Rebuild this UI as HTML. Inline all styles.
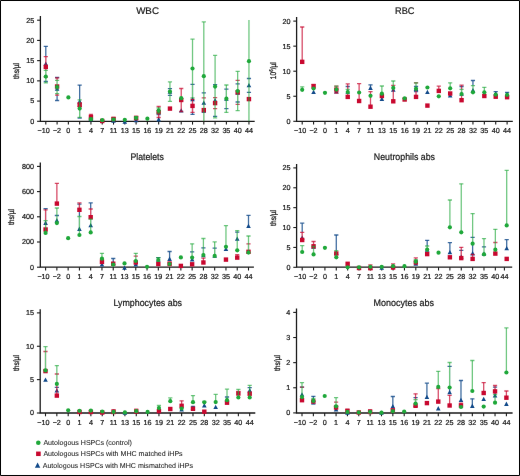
<!DOCTYPE html>
<html><head><meta charset="utf-8"><title>Blood counts</title>
<style>
html,body{margin:0;padding:0;background:#fff;}
body{width:520px;height:476px;overflow:hidden;}
.fig{position:relative;width:520px;height:476px;}
svg{position:absolute;left:0;top:0;}
text{font-family:"Liberation Sans",sans-serif;text-rendering:geometricPrecision;fill:#1a1a1a;stroke:#1a1a1a;stroke-width:0.22px;stroke-linejoin:round;}
.ti{font-size:9px;}
.tk{font-size:7.2px;}
.yl{font-size:8.2px;stroke-width:0.3px;}
.lg{font-size:7.08px;stroke-width:0.06px;}
.ax{stroke:#1a1a1a;stroke-width:1.1;}
.axl{stroke:#1a1a1a;stroke-width:1.3;fill:none;}
.eb{stroke-width:1.3;fill:none;}
</style></head>
<body><div class="fig">
<svg width="520" height="476" viewBox="0 0 520 476">
<defs><filter id="soft" x="0" y="0" width="520" height="476" filterUnits="userSpaceOnUse" color-interpolation-filters="sRGB"><feConvolveMatrix order="3" kernelMatrix="0.00041 0.01943 0.00041 0.01943 0.92062 0.01943 0.00041 0.01943 0.00041" divisor="1" edgeMode="duplicate"/></filter></defs>
<g filter="url(#soft)"><rect x="0" y="0" width="520" height="476" fill="#fff"/>
<path d="M0.5 0.5H519.5V475.5H0.5Z" fill="none" stroke="#000" stroke-width="1"/>
<text x="147.55" y="14.2" class="ti" text-anchor="middle" style="font-size:9.6px" textLength="22.8" lengthAdjust="spacingAndGlyphs">WBC</text>
<text class="yl" text-anchor="middle" transform="translate(19 70.9) rotate(-90) scale(0.81 1)">ths/µl</text>
<line x1="37.1" y1="121.3" x2="40.4" y2="121.3" class="ax"/>
<text x="34.2" y="123.7" class="tk" text-anchor="end">0</text>
<line x1="37.1" y1="101.08" x2="40.4" y2="101.08" class="ax"/>
<text x="34.2" y="103.48" class="tk" text-anchor="end">5</text>
<line x1="37.1" y1="80.86" x2="40.4" y2="80.86" class="ax"/>
<text x="34.2" y="83.26" class="tk" text-anchor="end">10</text>
<line x1="37.1" y1="60.64" x2="40.4" y2="60.64" class="ax"/>
<text x="34.2" y="63.04" class="tk" text-anchor="end">15</text>
<line x1="37.1" y1="40.42" x2="40.4" y2="40.42" class="ax"/>
<text x="34.2" y="42.82" class="tk" text-anchor="end">20</text>
<line x1="37.1" y1="20.2" x2="40.4" y2="20.2" class="ax"/>
<text x="34.2" y="22.6" class="tk" text-anchor="end">25</text>
<line x1="45.8" y1="121.3" x2="45.8" y2="124.6" class="ax"/>
<text x="43.7" y="133.3" class="tk" text-anchor="middle">−10</text>
<line x1="57.09" y1="121.3" x2="57.09" y2="124.6" class="ax"/>
<text x="56.99" y="133.3" class="tk" text-anchor="middle">−2</text>
<line x1="68.37" y1="121.3" x2="68.37" y2="124.6" class="ax"/>
<text x="68.37" y="133.3" class="tk" text-anchor="middle">0</text>
<line x1="79.66" y1="121.3" x2="79.66" y2="124.6" class="ax"/>
<text x="79.66" y="133.3" class="tk" text-anchor="middle">1</text>
<line x1="90.94" y1="121.3" x2="90.94" y2="124.6" class="ax"/>
<text x="90.94" y="133.3" class="tk" text-anchor="middle">4</text>
<line x1="102.23" y1="121.3" x2="102.23" y2="124.6" class="ax"/>
<text x="102.23" y="133.3" class="tk" text-anchor="middle">7</text>
<line x1="113.52" y1="121.3" x2="113.52" y2="124.6" class="ax"/>
<text x="113.52" y="133.3" class="tk" text-anchor="middle">11</text>
<line x1="124.8" y1="121.3" x2="124.8" y2="124.6" class="ax"/>
<text x="124.8" y="133.3" class="tk" text-anchor="middle">13</text>
<line x1="136.09" y1="121.3" x2="136.09" y2="124.6" class="ax"/>
<text x="136.09" y="133.3" class="tk" text-anchor="middle">15</text>
<line x1="147.38" y1="121.3" x2="147.38" y2="124.6" class="ax"/>
<text x="147.38" y="133.3" class="tk" text-anchor="middle">16</text>
<line x1="158.66" y1="121.3" x2="158.66" y2="124.6" class="ax"/>
<text x="158.66" y="133.3" class="tk" text-anchor="middle">19</text>
<line x1="169.95" y1="121.3" x2="169.95" y2="124.6" class="ax"/>
<text x="169.95" y="133.3" class="tk" text-anchor="middle">21</text>
<line x1="181.23" y1="121.3" x2="181.23" y2="124.6" class="ax"/>
<text x="181.23" y="133.3" class="tk" text-anchor="middle">22</text>
<line x1="192.52" y1="121.3" x2="192.52" y2="124.6" class="ax"/>
<text x="192.52" y="133.3" class="tk" text-anchor="middle">25</text>
<line x1="203.81" y1="121.3" x2="203.81" y2="124.6" class="ax"/>
<text x="203.81" y="133.3" class="tk" text-anchor="middle">28</text>
<line x1="215.09" y1="121.3" x2="215.09" y2="124.6" class="ax"/>
<text x="215.09" y="133.3" class="tk" text-anchor="middle">32</text>
<line x1="226.38" y1="121.3" x2="226.38" y2="124.6" class="ax"/>
<text x="226.38" y="133.3" class="tk" text-anchor="middle">35</text>
<line x1="237.66" y1="121.3" x2="237.66" y2="124.6" class="ax"/>
<text x="237.66" y="133.3" class="tk" text-anchor="middle">40</text>
<line x1="248.95" y1="121.3" x2="248.95" y2="124.6" class="ax"/>
<text x="248.95" y="133.3" class="tk" text-anchor="middle">44</text>
<path d="M40.4 16V121.3H254.7" class="axl"/>
<clipPath id="c00"><rect x="40.4" y="20" width="219.3" height="101.3"/></clipPath>
<mask id="mb00" maskUnits="userSpaceOnUse" x="0" y="0" width="520" height="476"><rect width="520" height="476" fill="#fff"/><path d="M45.8 66.9V56.6M45.8 66.9V77.2M57.09 86.5V77.8M57.09 86.5V95.2M79.66 104.8V102.8M79.66 104.8V106.8M90.94 117.2V114.3M90.94 117.2V120.1M113.52 119V117.5M113.52 119V120.5M136.09 118V116.3M136.09 118V119.7M158.66 112V106.5M158.66 112V117.5M181.23 100V88.5M181.23 100V111.5M192.52 105.9V99.4M192.52 105.9V112.4M203.81 110.1V97.8M203.81 110.1V122.4M215.09 103.1V97.6M215.09 103.1V108.6M237.66 92.3V80.3M237.66 92.3V104.3M248.95 99.1V98.1M248.95 99.1V100.1" stroke="#000" stroke-width="1.9" fill="none"/><path d="M45.8 76.6V70.3M45.8 76.6V82.9M57.09 87V80.4M57.09 87V93.6M79.66 108.6V99.8M79.66 108.6V117.4M90.94 119.2V118.2M90.94 119.2V120.2M113.52 119.5V118.5M113.52 119.5V120.5M136.09 117.8V116.8M136.09 117.8V118.8M158.66 110.5V108M158.66 110.5V113M169.95 91.6V81.9M169.95 91.6V101.3M192.52 68.5V39.2M192.52 68.5V97.8M203.81 76.2V21.9M203.81 76.2V130.5M215.09 86.6V55.4M215.09 86.6V117.8M226.38 98.7V85M226.38 98.7V112.4M237.66 91V71.4M237.66 91V110.6M248.95 61.2V16.2M248.95 61.2V123.2" stroke="#000" stroke-width="1.9" fill="none"/></mask>
<mask id="mr00" maskUnits="userSpaceOnUse" x="0" y="0" width="520" height="476"><rect width="520" height="476" fill="#fff"/><path d="M45.8 76.6V70.3M45.8 76.6V82.9M57.09 87V80.4M57.09 87V93.6M79.66 108.6V99.8M79.66 108.6V117.4M90.94 119.2V118.2M90.94 119.2V120.2M113.52 119.5V118.5M113.52 119.5V120.5M136.09 117.8V116.8M136.09 117.8V118.8M158.66 110.5V108M158.66 110.5V113M169.95 91.6V81.9M169.95 91.6V101.3M192.52 68.5V39.2M192.52 68.5V97.8M203.81 76.2V21.9M203.81 76.2V130.5M215.09 86.6V55.4M215.09 86.6V117.8M226.38 98.7V85M226.38 98.7V112.4M237.66 91V71.4M237.66 91V110.6M248.95 61.2V16.2M248.95 61.2V123.2" stroke="#000" stroke-width="1.9" fill="none"/></mask>
<g clip-path="url(#c00)"><path d="M45.8 63.9V46.3M45.8 63.9V81.5M57.09 89V77.5M57.09 89V100.5M79.66 101.6V85.1M79.66 101.6V118.1M90.94 119.5V118.5M90.94 119.5V120.5M158.66 119.6V114.6M158.66 119.6V124.6M169.95 92V88.7M169.95 92V95.3M192.52 99.45V84.45M192.52 99.45V114.45M203.81 103V92.9M203.81 103V112.3M215.09 100.5V84.6M215.09 100.5V116.4M226.38 98.9V89.2M226.38 98.9V108.6M237.66 92.9V83.8M237.66 92.9V102M248.95 85.4V78.5M248.95 85.4V92.3" stroke="#124a8a" stroke-opacity="0.8" stroke-width="1.3" fill="none" mask="url(#mb00)"/><path d="M43.7 46.3H47.9M43.7 81.5H47.9M54.99 77.5H59.19M54.99 100.5H59.19M77.56 85.1H81.76M77.56 118.1H81.76M88.84 118.5H93.04M88.84 120.5H93.04M156.56 114.6H160.76M156.56 124.6H160.76M167.85 88.7H172.05M167.85 95.3H172.05M190.42 84.45H194.62M190.42 114.45H194.62M201.71 92.9H205.91M201.71 112.3H205.91M212.99 84.6H217.19M212.99 116.4H217.19M224.28 89.2H228.48M224.28 108.6H228.48M235.56 83.8H239.76M235.56 102H239.76M246.85 78.5H251.05M246.85 92.3H251.05" stroke="#124a8a" stroke-opacity="0.8" stroke-width="1.3" fill="none"/></g>
<path d="M45.8 61.4L48.1 65.7L43.5 65.7Z" fill="#124a8a"/>
<path d="M57.09 86.5L59.39 90.8L54.79 90.8Z" fill="#124a8a"/>
<path d="M79.66 99.1L81.96 103.4L77.36 103.4Z" fill="#124a8a"/>
<path d="M90.94 117L93.24 121.3L88.64 121.3Z" fill="#124a8a"/>
<path d="M113.52 118.5L115.82 122.8L111.22 122.8Z" fill="#124a8a"/>
<path d="M124.8 119.5L127.1 123.8L122.5 123.8Z" fill="#124a8a"/>
<path d="M136.09 117.9L138.39 122.2L133.79 122.2Z" fill="#124a8a"/>
<path d="M158.66 117.1L160.96 121.4L156.36 121.4Z" fill="#124a8a"/>
<path d="M169.95 89.5L172.25 93.8L167.65 93.8Z" fill="#124a8a"/>
<path d="M181.23 108.3L183.53 112.6L178.93 112.6Z" fill="#124a8a"/>
<path d="M192.52 96.95L194.82 101.25L190.22 101.25Z" fill="#124a8a"/>
<path d="M203.81 100.5L206.11 104.8L201.51 104.8Z" fill="#124a8a"/>
<path d="M215.09 98L217.39 102.3L212.79 102.3Z" fill="#124a8a"/>
<path d="M226.38 96.4L228.68 100.7L224.08 100.7Z" fill="#124a8a"/>
<path d="M237.66 90.4L239.96 94.7L235.36 94.7Z" fill="#124a8a"/>
<path d="M248.95 82.9L251.25 87.2L246.65 87.2Z" fill="#124a8a"/>
<g clip-path="url(#c00)"><path d="M45.8 66.9V56.6M45.8 66.9V77.2M57.09 86.5V77.8M57.09 86.5V95.2M79.66 104.8V102.8M79.66 104.8V106.8M90.94 117.2V114.3M90.94 117.2V120.1M113.52 119V117.5M113.52 119V120.5M136.09 118V116.3M136.09 118V119.7M158.66 112V106.5M158.66 112V117.5M181.23 100V88.5M181.23 100V111.5M192.52 105.9V99.4M192.52 105.9V112.4M203.81 110.1V97.8M203.81 110.1V122.4M215.09 103.1V97.6M215.09 103.1V108.6M237.66 92.3V80.3M237.66 92.3V104.3M248.95 99.1V98.1M248.95 99.1V100.1" stroke="#c8082f" stroke-opacity="0.72" stroke-width="1.3" fill="none" mask="url(#mr00)"/><path d="M43.7 56.6H47.9M43.7 77.2H47.9M54.99 77.8H59.19M54.99 95.2H59.19M77.56 102.8H81.76M77.56 106.8H81.76M88.84 114.3H93.04M88.84 120.1H93.04M111.42 117.5H115.62M111.42 120.5H115.62M133.99 116.3H138.19M133.99 119.7H138.19M156.56 106.5H160.76M156.56 117.5H160.76M179.13 88.5H183.33M179.13 111.5H183.33M190.42 99.4H194.62M190.42 112.4H194.62M201.71 97.8H205.91M201.71 122.4H205.91M212.99 97.6H217.19M212.99 108.6H217.19M235.56 80.3H239.76M235.56 104.3H239.76M246.85 98.1H251.05M246.85 100.1H251.05" stroke="#c8082f" stroke-opacity="0.72" stroke-width="1.3" fill="none"/></g>
<rect x="43.6" y="64.7" width="4.4" height="4.4" fill="#c8082f"/>
<rect x="54.89" y="84.3" width="4.4" height="4.4" fill="#c8082f"/>
<rect x="77.46" y="102.6" width="4.4" height="4.4" fill="#c8082f"/>
<rect x="88.74" y="115" width="4.4" height="4.4" fill="#c8082f"/>
<rect x="100.03" y="118.8" width="4.4" height="4.4" fill="#c8082f"/>
<rect x="111.32" y="116.8" width="4.4" height="4.4" fill="#c8082f"/>
<rect x="133.89" y="115.8" width="4.4" height="4.4" fill="#c8082f"/>
<rect x="156.46" y="109.8" width="4.4" height="4.4" fill="#c8082f"/>
<rect x="167.75" y="106.4" width="4.4" height="4.4" fill="#c8082f"/>
<rect x="179.03" y="97.8" width="4.4" height="4.4" fill="#c8082f"/>
<rect x="190.32" y="103.7" width="4.4" height="4.4" fill="#c8082f"/>
<rect x="201.61" y="107.9" width="4.4" height="4.4" fill="#c8082f"/>
<rect x="212.89" y="100.9" width="4.4" height="4.4" fill="#c8082f"/>
<rect x="235.46" y="90.1" width="4.4" height="4.4" fill="#c8082f"/>
<rect x="246.75" y="96.9" width="4.4" height="4.4" fill="#c8082f"/>
<g clip-path="url(#c00)"><path d="M45.8 76.6V70.3M45.8 76.6V82.9M57.09 87V80.4M57.09 87V93.6M79.66 108.6V99.8M79.66 108.6V117.4M90.94 119.2V118.2M90.94 119.2V120.2M113.52 119.5V118.5M113.52 119.5V120.5M136.09 117.8V116.8M136.09 117.8V118.8M158.66 110.5V108M158.66 110.5V113M169.95 91.6V81.9M169.95 91.6V101.3M192.52 68.5V39.2M192.52 68.5V97.8M203.81 76.2V21.9M203.81 76.2V130.5M215.09 86.6V55.4M215.09 86.6V117.8M226.38 98.7V85M226.38 98.7V112.4M237.66 91V71.4M237.66 91V110.6M248.95 61.2V16.2M248.95 61.2V123.2" stroke="#1fa83a" stroke-opacity="0.64" stroke-width="1.3" fill="none"/><path d="M43.7 70.3H47.9M43.7 82.9H47.9M54.99 80.4H59.19M54.99 93.6H59.19M77.56 99.8H81.76M77.56 117.4H81.76M88.84 118.2H93.04M88.84 120.2H93.04M111.42 118.5H115.62M111.42 120.5H115.62M133.99 116.8H138.19M133.99 118.8H138.19M156.56 108H160.76M156.56 113H160.76M167.85 81.9H172.05M167.85 101.3H172.05M190.42 39.2H194.62M190.42 97.8H194.62M201.71 21.9H205.91M201.71 130.5H205.91M212.99 55.4H217.19M212.99 117.8H217.19M224.28 85H228.48M224.28 112.4H228.48M235.56 71.4H239.76M235.56 110.6H239.76M246.85 16.2H251.05M246.85 123.2H251.05" stroke="#1fa83a" stroke-opacity="0.64" stroke-width="1.3" fill="none"/></g>
<circle cx="45.8" cy="76.6" r="2.1" fill="#1fa83a"/>
<circle cx="57.09" cy="87" r="2.1" fill="#1fa83a"/>
<circle cx="68.37" cy="97.4" r="2.1" fill="#1fa83a"/>
<circle cx="79.66" cy="108.6" r="2.1" fill="#1fa83a"/>
<circle cx="90.94" cy="119.2" r="2.1" fill="#1fa83a"/>
<circle cx="102.23" cy="120.2" r="2.1" fill="#1fa83a"/>
<circle cx="113.52" cy="119.5" r="2.1" fill="#1fa83a"/>
<circle cx="124.8" cy="119.8" r="2.1" fill="#1fa83a"/>
<circle cx="136.09" cy="117.8" r="2.1" fill="#1fa83a"/>
<circle cx="147.38" cy="118.7" r="2.1" fill="#1fa83a"/>
<circle cx="158.66" cy="110.5" r="2.1" fill="#1fa83a"/>
<circle cx="169.95" cy="91.6" r="2.1" fill="#1fa83a"/>
<circle cx="181.23" cy="98.2" r="2.1" fill="#1fa83a"/>
<circle cx="192.52" cy="68.5" r="2.1" fill="#1fa83a"/>
<circle cx="203.81" cy="76.2" r="2.1" fill="#1fa83a"/>
<circle cx="215.09" cy="86.6" r="2.1" fill="#1fa83a"/>
<circle cx="226.38" cy="98.7" r="2.1" fill="#1fa83a"/>
<circle cx="237.66" cy="91" r="2.1" fill="#1fa83a"/>
<circle cx="248.95" cy="61.2" r="2.1" fill="#1fa83a"/>
<text x="404.7" y="14.2" class="ti" text-anchor="middle" style="font-size:9.6px" textLength="19.4" lengthAdjust="spacingAndGlyphs">RBC</text>
<text class="yl" text-anchor="middle" transform="translate(276 70.7) rotate(-90) scale(0.81 1)">10<tspan dy="-3.4" style="font-size:5.4px">6</tspan><tspan dy="3.4">/µl</tspan></text>
<line x1="293.3" y1="121.3" x2="296.6" y2="121.3" class="ax"/>
<text x="290.4" y="123.7" class="tk" text-anchor="end">0</text>
<line x1="293.3" y1="96.25" x2="296.6" y2="96.25" class="ax"/>
<text x="290.4" y="98.65" class="tk" text-anchor="end">5</text>
<line x1="293.3" y1="71.2" x2="296.6" y2="71.2" class="ax"/>
<text x="290.4" y="73.6" class="tk" text-anchor="end">10</text>
<line x1="293.3" y1="46.15" x2="296.6" y2="46.15" class="ax"/>
<text x="290.4" y="48.55" class="tk" text-anchor="end">15</text>
<line x1="293.3" y1="21.1" x2="296.6" y2="21.1" class="ax"/>
<text x="290.4" y="23.5" class="tk" text-anchor="end">20</text>
<line x1="302.2" y1="121.3" x2="302.2" y2="124.6" class="ax"/>
<text x="300.1" y="133.3" class="tk" text-anchor="middle">−10</text>
<line x1="313.58" y1="121.3" x2="313.58" y2="124.6" class="ax"/>
<text x="313.48" y="133.3" class="tk" text-anchor="middle">−2</text>
<line x1="324.97" y1="121.3" x2="324.97" y2="124.6" class="ax"/>
<text x="324.97" y="133.3" class="tk" text-anchor="middle">0</text>
<line x1="336.35" y1="121.3" x2="336.35" y2="124.6" class="ax"/>
<text x="336.35" y="133.3" class="tk" text-anchor="middle">1</text>
<line x1="347.73" y1="121.3" x2="347.73" y2="124.6" class="ax"/>
<text x="347.73" y="133.3" class="tk" text-anchor="middle">4</text>
<line x1="359.12" y1="121.3" x2="359.12" y2="124.6" class="ax"/>
<text x="359.12" y="133.3" class="tk" text-anchor="middle">7</text>
<line x1="370.5" y1="121.3" x2="370.5" y2="124.6" class="ax"/>
<text x="370.5" y="133.3" class="tk" text-anchor="middle">11</text>
<line x1="381.88" y1="121.3" x2="381.88" y2="124.6" class="ax"/>
<text x="381.88" y="133.3" class="tk" text-anchor="middle">13</text>
<line x1="393.27" y1="121.3" x2="393.27" y2="124.6" class="ax"/>
<text x="393.27" y="133.3" class="tk" text-anchor="middle">15</text>
<line x1="404.65" y1="121.3" x2="404.65" y2="124.6" class="ax"/>
<text x="404.65" y="133.3" class="tk" text-anchor="middle">16</text>
<line x1="416.03" y1="121.3" x2="416.03" y2="124.6" class="ax"/>
<text x="416.03" y="133.3" class="tk" text-anchor="middle">19</text>
<line x1="427.42" y1="121.3" x2="427.42" y2="124.6" class="ax"/>
<text x="427.42" y="133.3" class="tk" text-anchor="middle">21</text>
<line x1="438.8" y1="121.3" x2="438.8" y2="124.6" class="ax"/>
<text x="438.8" y="133.3" class="tk" text-anchor="middle">22</text>
<line x1="450.18" y1="121.3" x2="450.18" y2="124.6" class="ax"/>
<text x="450.18" y="133.3" class="tk" text-anchor="middle">25</text>
<line x1="461.57" y1="121.3" x2="461.57" y2="124.6" class="ax"/>
<text x="461.57" y="133.3" class="tk" text-anchor="middle">28</text>
<line x1="472.95" y1="121.3" x2="472.95" y2="124.6" class="ax"/>
<text x="472.95" y="133.3" class="tk" text-anchor="middle">32</text>
<line x1="484.33" y1="121.3" x2="484.33" y2="124.6" class="ax"/>
<text x="484.33" y="133.3" class="tk" text-anchor="middle">35</text>
<line x1="495.72" y1="121.3" x2="495.72" y2="124.6" class="ax"/>
<text x="495.72" y="133.3" class="tk" text-anchor="middle">40</text>
<line x1="507.1" y1="121.3" x2="507.1" y2="124.6" class="ax"/>
<text x="507.1" y="133.3" class="tk" text-anchor="middle">44</text>
<path d="M296.6 17V121.3H512.8" class="axl"/>
<clipPath id="c01"><rect x="296.6" y="0" width="221.2" height="121.3"/></clipPath>
<mask id="mb01" maskUnits="userSpaceOnUse" x="0" y="0" width="520" height="476"><rect width="520" height="476" fill="#fff"/><path d="M302.2 61.85V27M313.58 86.3V84.3M336.35 89.6V86.1M336.35 89.6V93M347.73 96.9V83.9M359.12 101V83.7M370.5 106.7V91.7M393.27 101.3V85.4M416.03 96.9V82.8M438.8 90.9V86.2M461.57 100.2V85.2" stroke="#000" stroke-width="1.9" fill="none"/><path d="M302.2 89.8V86.8M336.35 89.6V86.2M347.73 92.1V89.4M381.88 93.7V86M393.27 87.9V81M416.03 88.8V82.8M450.18 88.3V82.8M461.57 94V89.4M472.95 92.3V85.6M484.33 92.3V87.3" stroke="#000" stroke-width="1.9" fill="none"/></mask>
<mask id="mr01" maskUnits="userSpaceOnUse" x="0" y="0" width="520" height="476"><rect width="520" height="476" fill="#fff"/><path d="M302.2 89.8V86.8M336.35 89.6V86.2M347.73 92.1V89.4M381.88 93.7V86M393.27 87.9V81M416.03 88.8V82.8M450.18 88.3V82.8M461.57 94V89.4M472.95 92.3V85.6M484.33 92.3V87.3" stroke="#000" stroke-width="1.9" fill="none"/></mask>
<g clip-path="url(#c01)"><path d="M347.73 92V86.5M370.5 88.3V84.8M416.03 89.1V86.5M416.03 89.1V91.7M461.57 94V86.5M472.95 90.5V80.5M495.72 93.8V91.7M507.1 94.5V92.3" stroke="#124a8a" stroke-opacity="0.8" stroke-width="1.3" fill="none" mask="url(#mb01)"/><path d="M345.63 86.5H349.83M368.4 84.8H372.6M413.93 86.5H418.13M413.93 91.7H418.13M459.47 86.5H463.67M470.85 80.5H475.05M493.62 91.7H497.82M505 92.3H509.2" stroke="#124a8a" stroke-opacity="0.8" stroke-width="1.3" fill="none"/></g>
<path d="M313.58 89.7L315.88 94L311.28 94Z" fill="#124a8a"/>
<path d="M336.35 89.3L338.65 93.6L334.05 93.6Z" fill="#124a8a"/>
<path d="M347.73 89.5L350.03 93.8L345.43 93.8Z" fill="#124a8a"/>
<path d="M370.5 85.8L372.8 90.1L368.2 90.1Z" fill="#124a8a"/>
<path d="M381.88 96.7L384.18 101L379.58 101Z" fill="#124a8a"/>
<path d="M393.27 87.5L395.57 91.8L390.97 91.8Z" fill="#124a8a"/>
<path d="M416.03 86.6L418.33 90.9L413.73 90.9Z" fill="#124a8a"/>
<path d="M427.42 89.8L429.72 94.1L425.12 94.1Z" fill="#124a8a"/>
<path d="M450.18 93.3L452.48 97.6L447.88 97.6Z" fill="#124a8a"/>
<path d="M461.57 91.5L463.87 95.8L459.27 95.8Z" fill="#124a8a"/>
<path d="M472.95 88L475.25 92.3L470.65 92.3Z" fill="#124a8a"/>
<path d="M495.72 91.3L498.02 95.6L493.42 95.6Z" fill="#124a8a"/>
<path d="M507.1 92L509.4 96.3L504.8 96.3Z" fill="#124a8a"/>
<g clip-path="url(#c01)"><path d="M302.2 61.85V27M313.58 86.3V84.3M336.35 89.6V86.1M336.35 89.6V93M347.73 96.9V83.9M359.12 101V83.7M370.5 106.7V91.7M393.27 101.3V85.4M416.03 96.9V82.8M438.8 90.9V86.2M461.57 100.2V85.2" stroke="#c8082f" stroke-opacity="0.72" stroke-width="1.3" fill="none" mask="url(#mr01)"/><path d="M300.1 27H304.3M311.48 84.3H315.68M334.25 86.1H338.45M334.25 93H338.45M345.63 83.9H349.83M357.02 83.7H361.22M368.4 91.7H372.6M391.17 85.4H395.37M413.93 82.8H418.13M436.7 86.2H440.9M459.47 85.2H463.67" stroke="#c8082f" stroke-opacity="0.72" stroke-width="1.3" fill="none"/></g>
<rect x="300" y="59.65" width="4.4" height="4.4" fill="#c8082f"/>
<rect x="311.38" y="84.1" width="4.4" height="4.4" fill="#c8082f"/>
<rect x="334.15" y="87.4" width="4.4" height="4.4" fill="#c8082f"/>
<rect x="345.53" y="94.7" width="4.4" height="4.4" fill="#c8082f"/>
<rect x="356.92" y="98.8" width="4.4" height="4.4" fill="#c8082f"/>
<rect x="368.3" y="104.5" width="4.4" height="4.4" fill="#c8082f"/>
<rect x="379.68" y="93.8" width="4.4" height="4.4" fill="#c8082f"/>
<rect x="391.07" y="99.1" width="4.4" height="4.4" fill="#c8082f"/>
<rect x="402.45" y="97.3" width="4.4" height="4.4" fill="#c8082f"/>
<rect x="413.83" y="94.7" width="4.4" height="4.4" fill="#c8082f"/>
<rect x="425.22" y="103.4" width="4.4" height="4.4" fill="#c8082f"/>
<rect x="436.6" y="88.7" width="4.4" height="4.4" fill="#c8082f"/>
<rect x="447.98" y="91.3" width="4.4" height="4.4" fill="#c8082f"/>
<rect x="459.37" y="98" width="4.4" height="4.4" fill="#c8082f"/>
<rect x="482.13" y="93.8" width="4.4" height="4.4" fill="#c8082f"/>
<rect x="493.52" y="94.5" width="4.4" height="4.4" fill="#c8082f"/>
<rect x="504.9" y="95" width="4.4" height="4.4" fill="#c8082f"/>
<g clip-path="url(#c01)"><path d="M302.2 89.8V86.8M336.35 89.6V86.2M347.73 92.1V89.4M381.88 93.7V86M393.27 87.9V81M416.03 88.8V82.8M450.18 88.3V82.8M461.57 94V89.4M472.95 92.3V85.6M484.33 92.3V87.3" stroke="#1fa83a" stroke-opacity="0.64" stroke-width="1.3" fill="none"/><path d="M300.1 86.8H304.3M334.25 86.2H338.45M345.63 89.4H349.83M379.78 86H383.98M391.17 81H395.37M413.93 82.8H418.13M448.08 82.8H452.28M459.47 89.4H463.67M470.85 85.6H475.05M482.23 87.3H486.43" stroke="#1fa83a" stroke-opacity="0.64" stroke-width="1.3" fill="none"/></g>
<circle cx="302.2" cy="89.8" r="2.1" fill="#1fa83a"/>
<circle cx="313.58" cy="88.5" r="2.1" fill="#1fa83a"/>
<circle cx="324.97" cy="92.8" r="2.1" fill="#1fa83a"/>
<circle cx="336.35" cy="89.6" r="2.1" fill="#1fa83a"/>
<circle cx="347.73" cy="92.1" r="2.1" fill="#1fa83a"/>
<circle cx="359.12" cy="92.5" r="2.1" fill="#1fa83a"/>
<circle cx="370.5" cy="95.8" r="2.1" fill="#1fa83a"/>
<circle cx="381.88" cy="93.7" r="2.1" fill="#1fa83a"/>
<circle cx="393.27" cy="87.9" r="2.1" fill="#1fa83a"/>
<circle cx="404.65" cy="98.3" r="2.1" fill="#1fa83a"/>
<circle cx="416.03" cy="88.8" r="2.1" fill="#1fa83a"/>
<circle cx="427.42" cy="87.5" r="2.1" fill="#1fa83a"/>
<circle cx="438.8" cy="96.3" r="2.1" fill="#1fa83a"/>
<circle cx="450.18" cy="88.3" r="2.1" fill="#1fa83a"/>
<circle cx="461.57" cy="94" r="2.1" fill="#1fa83a"/>
<circle cx="472.95" cy="92.3" r="2.1" fill="#1fa83a"/>
<circle cx="484.33" cy="92.3" r="2.1" fill="#1fa83a"/>
<circle cx="495.72" cy="94.6" r="2.1" fill="#1fa83a"/>
<circle cx="507.1" cy="94.8" r="2.1" fill="#1fa83a"/>
<text x="147.1" y="159.5" class="ti" text-anchor="middle" style="font-size:9.6px" textLength="33.4" lengthAdjust="spacingAndGlyphs">Platelets</text>
<text class="yl" text-anchor="middle" transform="translate(14 217) rotate(-90) scale(0.81 1)">ths/µl</text>
<line x1="37" y1="267.2" x2="40.3" y2="267.2" class="ax"/>
<text x="34.1" y="269.6" class="tk" text-anchor="end">0</text>
<line x1="37" y1="242" x2="40.3" y2="242" class="ax"/>
<text x="34.1" y="244.4" class="tk" text-anchor="end">200</text>
<line x1="37" y1="216.8" x2="40.3" y2="216.8" class="ax"/>
<text x="34.1" y="219.2" class="tk" text-anchor="end">400</text>
<line x1="37" y1="191.6" x2="40.3" y2="191.6" class="ax"/>
<text x="34.1" y="194" class="tk" text-anchor="end">600</text>
<line x1="37" y1="166.4" x2="40.3" y2="166.4" class="ax"/>
<text x="34.1" y="168.8" class="tk" text-anchor="end">800</text>
<line x1="45.6" y1="267.2" x2="45.6" y2="270.5" class="ax"/>
<text x="43.5" y="279.2" class="tk" text-anchor="middle">−10</text>
<line x1="56.87" y1="267.2" x2="56.87" y2="270.5" class="ax"/>
<text x="56.77" y="279.2" class="tk" text-anchor="middle">−2</text>
<line x1="68.14" y1="267.2" x2="68.14" y2="270.5" class="ax"/>
<text x="68.14" y="279.2" class="tk" text-anchor="middle">0</text>
<line x1="79.42" y1="267.2" x2="79.42" y2="270.5" class="ax"/>
<text x="79.42" y="279.2" class="tk" text-anchor="middle">1</text>
<line x1="90.69" y1="267.2" x2="90.69" y2="270.5" class="ax"/>
<text x="90.69" y="279.2" class="tk" text-anchor="middle">4</text>
<line x1="101.96" y1="267.2" x2="101.96" y2="270.5" class="ax"/>
<text x="101.96" y="279.2" class="tk" text-anchor="middle">7</text>
<line x1="113.23" y1="267.2" x2="113.23" y2="270.5" class="ax"/>
<text x="113.23" y="279.2" class="tk" text-anchor="middle">11</text>
<line x1="124.51" y1="267.2" x2="124.51" y2="270.5" class="ax"/>
<text x="124.51" y="279.2" class="tk" text-anchor="middle">13</text>
<line x1="135.78" y1="267.2" x2="135.78" y2="270.5" class="ax"/>
<text x="135.78" y="279.2" class="tk" text-anchor="middle">15</text>
<line x1="147.05" y1="267.2" x2="147.05" y2="270.5" class="ax"/>
<text x="147.05" y="279.2" class="tk" text-anchor="middle">16</text>
<line x1="158.32" y1="267.2" x2="158.32" y2="270.5" class="ax"/>
<text x="158.32" y="279.2" class="tk" text-anchor="middle">19</text>
<line x1="169.59" y1="267.2" x2="169.59" y2="270.5" class="ax"/>
<text x="169.59" y="279.2" class="tk" text-anchor="middle">21</text>
<line x1="180.87" y1="267.2" x2="180.87" y2="270.5" class="ax"/>
<text x="180.87" y="279.2" class="tk" text-anchor="middle">22</text>
<line x1="192.14" y1="267.2" x2="192.14" y2="270.5" class="ax"/>
<text x="192.14" y="279.2" class="tk" text-anchor="middle">25</text>
<line x1="203.41" y1="267.2" x2="203.41" y2="270.5" class="ax"/>
<text x="203.41" y="279.2" class="tk" text-anchor="middle">28</text>
<line x1="214.68" y1="267.2" x2="214.68" y2="270.5" class="ax"/>
<text x="214.68" y="279.2" class="tk" text-anchor="middle">32</text>
<line x1="225.96" y1="267.2" x2="225.96" y2="270.5" class="ax"/>
<text x="225.96" y="279.2" class="tk" text-anchor="middle">35</text>
<line x1="237.23" y1="267.2" x2="237.23" y2="270.5" class="ax"/>
<text x="237.23" y="279.2" class="tk" text-anchor="middle">40</text>
<line x1="248.5" y1="267.2" x2="248.5" y2="270.5" class="ax"/>
<text x="248.5" y="279.2" class="tk" text-anchor="middle">44</text>
<path d="M40.3 162.6V267.2H253.9" class="axl"/>
<clipPath id="c10"><rect x="40.3" y="0" width="218.6" height="267.2"/></clipPath>
<mask id="mb10" maskUnits="userSpaceOnUse" x="0" y="0" width="520" height="476"><rect width="520" height="476" fill="#fff"/><path d="M45.6 229.5V209.9M56.87 203.6V183.4M79.42 209.8V202.9M90.69 217.2V209M101.96 261.9V259.4M135.78 262.5V256.2M169.59 264V261.8M203.41 262.5V258.1M237.23 257.6V254.7M248.5 251.8V243.8" stroke="#000" stroke-width="1.9" fill="none"/><path d="M45.6 232.9V220.6M56.87 223.1V208M79.42 235V216.5M90.69 232.4V219.1M101.96 258.7V253.3M135.78 261V253.3M158.32 260V257.6M192.14 257.6V243.8M203.41 255.1V238.5M214.68 255.9V241.9M225.96 246.8V225.7M237.23 250.3V230.6M248.5 252.6V236" stroke="#000" stroke-width="1.9" fill="none"/></mask>
<mask id="mr10" maskUnits="userSpaceOnUse" x="0" y="0" width="520" height="476"><rect width="520" height="476" fill="#fff"/><path d="M45.6 232.9V220.6M56.87 223.1V208M79.42 235V216.5M90.69 232.4V219.1M101.96 258.7V253.3M135.78 261V253.3M158.32 260V257.6M192.14 257.6V243.8M203.41 255.1V238.5M214.68 255.9V241.9M225.96 246.8V225.7M237.23 250.3V230.6M248.5 252.6V236" stroke="#000" stroke-width="1.9" fill="none"/></mask>
<g clip-path="url(#c10)"><path d="M45.6 223.1V208.7M56.87 220.6V215.5M79.42 229.1V204.2M90.69 225.4V202.9M113.23 263.5V258.5M158.32 260V257.6M169.59 259.1V251.5M192.14 259.6V251.8M203.41 255.5V247.8M214.68 255.9V248.2M237.23 239V232.1M248.5 226.2V215.4" stroke="#124a8a" stroke-opacity="0.8" stroke-width="1.3" fill="none" mask="url(#mb10)"/><path d="M43.5 208.7H47.7M54.77 215.5H58.97M77.32 204.2H81.52M88.59 202.9H92.79M111.13 258.5H115.33M156.22 257.6H160.42M167.49 251.5H171.69M190.04 251.8H194.24M201.31 247.8H205.51M212.58 248.2H216.78M235.13 232.1H239.33M246.4 215.4H250.6" stroke="#124a8a" stroke-opacity="0.8" stroke-width="1.3" fill="none"/></g>
<path d="M45.6 220.6L47.9 224.9L43.3 224.9Z" fill="#124a8a"/>
<path d="M56.87 218.1L59.17 222.4L54.57 222.4Z" fill="#124a8a"/>
<path d="M79.42 226.6L81.72 230.9L77.12 230.9Z" fill="#124a8a"/>
<path d="M90.69 222.9L92.99 227.2L88.39 227.2Z" fill="#124a8a"/>
<path d="M101.96 262.3L104.26 266.6L99.66 266.6Z" fill="#124a8a"/>
<path d="M113.23 261L115.53 265.3L110.93 265.3Z" fill="#124a8a"/>
<path d="M124.51 265.4L126.81 269.7L122.21 269.7Z" fill="#124a8a"/>
<path d="M135.78 262.1L138.08 266.4L133.48 266.4Z" fill="#124a8a"/>
<path d="M158.32 257.5L160.62 261.8L156.02 261.8Z" fill="#124a8a"/>
<path d="M169.59 256.6L171.89 260.9L167.29 260.9Z" fill="#124a8a"/>
<path d="M192.14 257.1L194.44 261.4L189.84 261.4Z" fill="#124a8a"/>
<path d="M203.41 253L205.71 257.3L201.11 257.3Z" fill="#124a8a"/>
<path d="M214.68 253.4L216.98 257.7L212.38 257.7Z" fill="#124a8a"/>
<path d="M225.96 246.8L228.26 251.1L223.66 251.1Z" fill="#124a8a"/>
<path d="M237.23 236.5L239.53 240.8L234.93 240.8Z" fill="#124a8a"/>
<path d="M248.5 223.7L250.8 228L246.2 228Z" fill="#124a8a"/>
<g clip-path="url(#c10)"><path d="M45.6 229.5V209.9M56.87 203.6V183.4M79.42 209.8V202.9M90.69 217.2V209M101.96 261.9V259.4M135.78 262.5V256.2M169.59 264V261.8M203.41 262.5V258.1M237.23 257.6V254.7M248.5 251.8V243.8" stroke="#c8082f" stroke-opacity="0.72" stroke-width="1.3" fill="none" mask="url(#mr10)"/><path d="M43.5 209.9H47.7M54.77 183.4H58.97M77.32 202.9H81.52M88.59 209H92.79M99.86 259.4H104.06M133.68 256.2H137.88M167.49 261.8H171.69M201.31 258.1H205.51M235.13 254.7H239.33M246.4 243.8H250.6" stroke="#c8082f" stroke-opacity="0.72" stroke-width="1.3" fill="none"/></g>
<rect x="43.4" y="227.3" width="4.4" height="4.4" fill="#c8082f"/>
<rect x="54.67" y="201.4" width="4.4" height="4.4" fill="#c8082f"/>
<rect x="77.22" y="207.6" width="4.4" height="4.4" fill="#c8082f"/>
<rect x="88.49" y="215" width="4.4" height="4.4" fill="#c8082f"/>
<rect x="99.76" y="259.7" width="4.4" height="4.4" fill="#c8082f"/>
<rect x="111.03" y="261.5" width="4.4" height="4.4" fill="#c8082f"/>
<rect x="133.58" y="260.3" width="4.4" height="4.4" fill="#c8082f"/>
<rect x="156.12" y="261.8" width="4.4" height="4.4" fill="#c8082f"/>
<rect x="167.39" y="261.8" width="4.4" height="4.4" fill="#c8082f"/>
<rect x="178.67" y="263.7" width="4.4" height="4.4" fill="#c8082f"/>
<rect x="189.94" y="262.1" width="4.4" height="4.4" fill="#c8082f"/>
<rect x="201.21" y="260.3" width="4.4" height="4.4" fill="#c8082f"/>
<rect x="223.76" y="257.4" width="4.4" height="4.4" fill="#c8082f"/>
<rect x="235.03" y="255.4" width="4.4" height="4.4" fill="#c8082f"/>
<rect x="246.3" y="249.6" width="4.4" height="4.4" fill="#c8082f"/>
<g clip-path="url(#c10)"><path d="M45.6 232.9V220.6M56.87 223.1V208M79.42 235V216.5M90.69 232.4V219.1M101.96 258.7V253.3M135.78 261V253.3M158.32 260V257.6M192.14 257.6V243.8M203.41 255.1V238.5M214.68 255.9V241.9M225.96 246.8V225.7M237.23 250.3V230.6M248.5 252.6V236" stroke="#1fa83a" stroke-opacity="0.64" stroke-width="1.3" fill="none"/><path d="M43.5 220.6H47.7M54.77 208H58.97M77.32 216.5H81.52M88.59 219.1H92.79M99.86 253.3H104.06M133.68 253.3H137.88M156.22 257.6H160.42M190.04 243.8H194.24M201.31 238.5H205.51M212.58 241.9H216.78M223.86 225.7H228.06M235.13 230.6H239.33M246.4 236H250.6" stroke="#1fa83a" stroke-opacity="0.64" stroke-width="1.3" fill="none"/></g>
<circle cx="45.6" cy="232.9" r="2.1" fill="#1fa83a"/>
<circle cx="56.87" cy="223.1" r="2.1" fill="#1fa83a"/>
<circle cx="68.14" cy="238.2" r="2.1" fill="#1fa83a"/>
<circle cx="79.42" cy="235" r="2.1" fill="#1fa83a"/>
<circle cx="90.69" cy="232.4" r="2.1" fill="#1fa83a"/>
<circle cx="101.96" cy="258.7" r="2.1" fill="#1fa83a"/>
<circle cx="113.23" cy="264.6" r="2.1" fill="#1fa83a"/>
<circle cx="124.51" cy="263.4" r="2.1" fill="#1fa83a"/>
<circle cx="135.78" cy="261" r="2.1" fill="#1fa83a"/>
<circle cx="147.05" cy="266.8" r="2.1" fill="#1fa83a"/>
<circle cx="158.32" cy="260" r="2.1" fill="#1fa83a"/>
<circle cx="169.59" cy="264" r="2.1" fill="#1fa83a"/>
<circle cx="180.87" cy="257.4" r="2.1" fill="#1fa83a"/>
<circle cx="192.14" cy="257.6" r="2.1" fill="#1fa83a"/>
<circle cx="203.41" cy="255.1" r="2.1" fill="#1fa83a"/>
<circle cx="214.68" cy="255.9" r="2.1" fill="#1fa83a"/>
<circle cx="225.96" cy="246.8" r="2.1" fill="#1fa83a"/>
<circle cx="237.23" cy="250.3" r="2.1" fill="#1fa83a"/>
<circle cx="248.5" cy="252.6" r="2.1" fill="#1fa83a"/>
<text x="404.4" y="159.5" class="ti" text-anchor="middle" style="font-size:9.6px" textLength="61.2" lengthAdjust="spacingAndGlyphs">Neutrophils abs</text>
<text class="yl" text-anchor="middle" transform="translate(276 217.9) rotate(-90) scale(0.81 1)">ths/µl</text>
<line x1="293.3" y1="267.3" x2="296.6" y2="267.3" class="ax"/>
<text x="290.4" y="269.7" class="tk" text-anchor="end">0</text>
<line x1="293.3" y1="247.42" x2="296.6" y2="247.42" class="ax"/>
<text x="290.4" y="249.82" class="tk" text-anchor="end">5</text>
<line x1="293.3" y1="227.54" x2="296.6" y2="227.54" class="ax"/>
<text x="290.4" y="229.94" class="tk" text-anchor="end">10</text>
<line x1="293.3" y1="207.66" x2="296.6" y2="207.66" class="ax"/>
<text x="290.4" y="210.06" class="tk" text-anchor="end">15</text>
<line x1="293.3" y1="187.78" x2="296.6" y2="187.78" class="ax"/>
<text x="290.4" y="190.18" class="tk" text-anchor="end">20</text>
<line x1="293.3" y1="167.9" x2="296.6" y2="167.9" class="ax"/>
<text x="290.4" y="170.3" class="tk" text-anchor="end">25</text>
<line x1="302.2" y1="267.2" x2="302.2" y2="270.5" class="ax"/>
<text x="300.1" y="279.2" class="tk" text-anchor="middle">−10</text>
<line x1="313.56" y1="267.2" x2="313.56" y2="270.5" class="ax"/>
<text x="313.46" y="279.2" class="tk" text-anchor="middle">−2</text>
<line x1="324.92" y1="267.2" x2="324.92" y2="270.5" class="ax"/>
<text x="324.92" y="279.2" class="tk" text-anchor="middle">0</text>
<line x1="336.28" y1="267.2" x2="336.28" y2="270.5" class="ax"/>
<text x="336.28" y="279.2" class="tk" text-anchor="middle">1</text>
<line x1="347.64" y1="267.2" x2="347.64" y2="270.5" class="ax"/>
<text x="347.64" y="279.2" class="tk" text-anchor="middle">4</text>
<line x1="359.01" y1="267.2" x2="359.01" y2="270.5" class="ax"/>
<text x="359.01" y="279.2" class="tk" text-anchor="middle">7</text>
<line x1="370.37" y1="267.2" x2="370.37" y2="270.5" class="ax"/>
<text x="370.37" y="279.2" class="tk" text-anchor="middle">11</text>
<line x1="381.73" y1="267.2" x2="381.73" y2="270.5" class="ax"/>
<text x="381.73" y="279.2" class="tk" text-anchor="middle">13</text>
<line x1="393.09" y1="267.2" x2="393.09" y2="270.5" class="ax"/>
<text x="393.09" y="279.2" class="tk" text-anchor="middle">15</text>
<line x1="404.45" y1="267.2" x2="404.45" y2="270.5" class="ax"/>
<text x="404.45" y="279.2" class="tk" text-anchor="middle">16</text>
<line x1="415.81" y1="267.2" x2="415.81" y2="270.5" class="ax"/>
<text x="415.81" y="279.2" class="tk" text-anchor="middle">19</text>
<line x1="427.17" y1="267.2" x2="427.17" y2="270.5" class="ax"/>
<text x="427.17" y="279.2" class="tk" text-anchor="middle">21</text>
<line x1="438.53" y1="267.2" x2="438.53" y2="270.5" class="ax"/>
<text x="438.53" y="279.2" class="tk" text-anchor="middle">22</text>
<line x1="449.89" y1="267.2" x2="449.89" y2="270.5" class="ax"/>
<text x="449.89" y="279.2" class="tk" text-anchor="middle">25</text>
<line x1="461.26" y1="267.2" x2="461.26" y2="270.5" class="ax"/>
<text x="461.26" y="279.2" class="tk" text-anchor="middle">28</text>
<line x1="472.62" y1="267.2" x2="472.62" y2="270.5" class="ax"/>
<text x="472.62" y="279.2" class="tk" text-anchor="middle">32</text>
<line x1="483.98" y1="267.2" x2="483.98" y2="270.5" class="ax"/>
<text x="483.98" y="279.2" class="tk" text-anchor="middle">35</text>
<line x1="495.34" y1="267.2" x2="495.34" y2="270.5" class="ax"/>
<text x="495.34" y="279.2" class="tk" text-anchor="middle">40</text>
<line x1="504.4" y1="267.2" x2="504.4" y2="270.5" class="ax"/>
<text x="504.4" y="279.2" class="tk" text-anchor="middle">44</text>
<path d="M296.6 164V267.2H512.2" class="axl"/>
<clipPath id="c11"><rect x="296.6" y="0" width="220.6" height="267.2"/></clipPath>
<mask id="mb11" maskUnits="userSpaceOnUse" x="0" y="0" width="520" height="476"><rect width="520" height="476" fill="#fff"/><path d="M302.2 240V232.3M313.56 246.3V241.5M370.37 268.2V265M393.09 267.5V263.9M415.81 262.5V257.9M461.26 258.1V247.3M472.62 258.9V254.3M495.34 253.6V242.5" stroke="#000" stroke-width="1.9" fill="none"/><path d="M302.2 252V245.7M313.56 254.4V246.4M336.28 257.3V250.6M415.81 261.7V259.6M427.17 249.6V246M449.89 227.3V200M461.26 232.3V183.8M472.62 243.7V213.6M483.98 254.3V238.6M495.34 249.7V229.3M506.7 225.4V170.4" stroke="#000" stroke-width="1.9" fill="none"/></mask>
<mask id="mr11" maskUnits="userSpaceOnUse" x="0" y="0" width="520" height="476"><rect width="520" height="476" fill="#fff"/><path d="M302.2 252V245.7M313.56 254.4V246.4M336.28 257.3V250.6M415.81 261.7V259.6M427.17 249.6V246M449.89 227.3V200M461.26 232.3V183.8M472.62 243.7V213.6M483.98 254.3V238.6M495.34 249.7V229.3M506.7 225.4V170.4" stroke="#000" stroke-width="1.9" fill="none"/></mask>
<g clip-path="url(#c11)"><path d="M302.2 238V223.2M336.28 253V235M427.17 250V240.3M449.89 252.5V242.7M461.26 257V250.4M472.62 253.6V237.4M483.98 254V246.9M506.7 248.5V239.7" stroke="#124a8a" stroke-opacity="0.8" stroke-width="1.3" fill="none" mask="url(#mb11)"/><path d="M300.1 223.2H304.3M334.18 235H338.38M425.07 240.3H429.27M447.79 242.7H451.99M459.16 250.4H463.36M470.52 237.4H474.72M481.88 246.9H486.08M504.6 239.7H508.8" stroke="#124a8a" stroke-opacity="0.8" stroke-width="1.3" fill="none"/></g>
<path d="M302.2 235.5L304.5 239.8L299.9 239.8Z" fill="#124a8a"/>
<path d="M313.56 244.5L315.86 248.8L311.26 248.8Z" fill="#124a8a"/>
<path d="M336.28 250.5L338.58 254.8L333.98 254.8Z" fill="#124a8a"/>
<path d="M370.37 265.5L372.67 269.8L368.07 269.8Z" fill="#124a8a"/>
<path d="M381.73 265.5L384.03 269.8L379.43 269.8Z" fill="#124a8a"/>
<path d="M415.81 261.5L418.11 265.8L413.51 265.8Z" fill="#124a8a"/>
<path d="M427.17 247.5L429.47 251.8L424.87 251.8Z" fill="#124a8a"/>
<path d="M449.89 250L452.19 254.3L447.59 254.3Z" fill="#124a8a"/>
<path d="M461.26 254.5L463.56 258.8L458.96 258.8Z" fill="#124a8a"/>
<path d="M472.62 251.1L474.92 255.4L470.32 255.4Z" fill="#124a8a"/>
<path d="M483.98 251.5L486.28 255.8L481.68 255.8Z" fill="#124a8a"/>
<path d="M506.7 246L509 250.3L504.4 250.3Z" fill="#124a8a"/>
<g clip-path="url(#c11)"><path d="M302.2 240V232.3M313.56 246.3V241.5M370.37 268.2V265M393.09 267.5V263.9M415.81 262.5V257.9M461.26 258.1V247.3M472.62 258.9V254.3M495.34 253.6V242.5" stroke="#c8082f" stroke-opacity="0.72" stroke-width="1.3" fill="none" mask="url(#mr11)"/><path d="M300.1 232.3H304.3M311.46 241.5H315.66M368.27 265H372.47M390.99 263.9H395.19M413.71 257.9H417.91M459.16 247.3H463.36M470.52 254.3H474.72M493.24 242.5H497.44" stroke="#c8082f" stroke-opacity="0.72" stroke-width="1.3" fill="none"/></g>
<rect x="300" y="237.8" width="4.4" height="4.4" fill="#c8082f"/>
<rect x="311.36" y="244.1" width="4.4" height="4.4" fill="#c8082f"/>
<rect x="334.08" y="251.3" width="4.4" height="4.4" fill="#c8082f"/>
<rect x="345.44" y="261.6" width="4.4" height="4.4" fill="#c8082f"/>
<rect x="356.81" y="265.8" width="4.4" height="4.4" fill="#c8082f"/>
<rect x="368.17" y="266" width="4.4" height="4.4" fill="#c8082f"/>
<rect x="390.89" y="265.3" width="4.4" height="4.4" fill="#c8082f"/>
<rect x="413.61" y="260.3" width="4.4" height="4.4" fill="#c8082f"/>
<rect x="424.97" y="251.9" width="4.4" height="4.4" fill="#c8082f"/>
<rect x="447.69" y="255.1" width="4.4" height="4.4" fill="#c8082f"/>
<rect x="459.06" y="255.9" width="4.4" height="4.4" fill="#c8082f"/>
<rect x="470.42" y="256.7" width="4.4" height="4.4" fill="#c8082f"/>
<rect x="493.14" y="251.4" width="4.4" height="4.4" fill="#c8082f"/>
<rect x="504.5" y="256.7" width="4.4" height="4.4" fill="#c8082f"/>
<g clip-path="url(#c11)"><path d="M302.2 252V245.7M313.56 254.4V246.4M336.28 257.3V250.6M415.81 261.7V259.6M427.17 249.6V246M449.89 227.3V200M461.26 232.3V183.8M472.62 243.7V213.6M483.98 254.3V238.6M495.34 249.7V229.3M506.7 225.4V170.4" stroke="#1fa83a" stroke-opacity="0.64" stroke-width="1.3" fill="none"/><path d="M300.1 245.7H304.3M311.46 246.4H315.66M334.18 250.6H338.38M413.71 259.6H417.91M425.07 246H429.27M447.79 200H451.99M459.16 183.8H463.36M470.52 213.6H474.72M481.88 238.6H486.08M493.24 229.3H497.44M504.6 170.4H508.8" stroke="#1fa83a" stroke-opacity="0.64" stroke-width="1.3" fill="none"/></g>
<circle cx="302.2" cy="252" r="2.1" fill="#1fa83a"/>
<circle cx="313.56" cy="254.4" r="2.1" fill="#1fa83a"/>
<circle cx="324.92" cy="247.8" r="2.1" fill="#1fa83a"/>
<circle cx="336.28" cy="257.3" r="2.1" fill="#1fa83a"/>
<circle cx="347.64" cy="267.3" r="2.1" fill="#1fa83a"/>
<circle cx="359.01" cy="267.3" r="2.1" fill="#1fa83a"/>
<circle cx="370.37" cy="266.8" r="2.1" fill="#1fa83a"/>
<circle cx="381.73" cy="266.8" r="2.1" fill="#1fa83a"/>
<circle cx="393.09" cy="266.2" r="2.1" fill="#1fa83a"/>
<circle cx="404.45" cy="266.2" r="2.1" fill="#1fa83a"/>
<circle cx="415.81" cy="261.7" r="2.1" fill="#1fa83a"/>
<circle cx="427.17" cy="249.6" r="2.1" fill="#1fa83a"/>
<circle cx="438.53" cy="252.7" r="2.1" fill="#1fa83a"/>
<circle cx="449.89" cy="227.3" r="2.1" fill="#1fa83a"/>
<circle cx="461.26" cy="232.3" r="2.1" fill="#1fa83a"/>
<circle cx="472.62" cy="243.7" r="2.1" fill="#1fa83a"/>
<circle cx="483.98" cy="254.3" r="2.1" fill="#1fa83a"/>
<circle cx="495.34" cy="249.7" r="2.1" fill="#1fa83a"/>
<circle cx="506.7" cy="225.4" r="2.1" fill="#1fa83a"/>
<text x="147.75" y="306.1" class="ti" text-anchor="middle" style="font-size:9.6px" textLength="68.6" lengthAdjust="spacingAndGlyphs">Lymphocytes abs</text>
<text class="yl" text-anchor="middle" transform="translate(19.3 363.1) rotate(-90) scale(0.81 1)">ths/µl</text>
<line x1="36.9" y1="413" x2="40.2" y2="413" class="ax"/>
<text x="34" y="415.4" class="tk" text-anchor="end">0</text>
<line x1="36.9" y1="379.63" x2="40.2" y2="379.63" class="ax"/>
<text x="34" y="382.03" class="tk" text-anchor="end">5</text>
<line x1="36.9" y1="346.26" x2="40.2" y2="346.26" class="ax"/>
<text x="34" y="348.66" class="tk" text-anchor="end">10</text>
<line x1="36.9" y1="312.89" x2="40.2" y2="312.89" class="ax"/>
<text x="34" y="315.29" class="tk" text-anchor="end">15</text>
<line x1="45.5" y1="413" x2="45.5" y2="416.3" class="ax"/>
<text x="43.4" y="425" class="tk" text-anchor="middle">−10</text>
<line x1="56.84" y1="413" x2="56.84" y2="416.3" class="ax"/>
<text x="56.74" y="425" class="tk" text-anchor="middle">−2</text>
<line x1="68.19" y1="413" x2="68.19" y2="416.3" class="ax"/>
<text x="68.19" y="425" class="tk" text-anchor="middle">0</text>
<line x1="79.53" y1="413" x2="79.53" y2="416.3" class="ax"/>
<text x="79.53" y="425" class="tk" text-anchor="middle">1</text>
<line x1="90.88" y1="413" x2="90.88" y2="416.3" class="ax"/>
<text x="90.88" y="425" class="tk" text-anchor="middle">4</text>
<line x1="102.22" y1="413" x2="102.22" y2="416.3" class="ax"/>
<text x="102.22" y="425" class="tk" text-anchor="middle">7</text>
<line x1="113.57" y1="413" x2="113.57" y2="416.3" class="ax"/>
<text x="113.57" y="425" class="tk" text-anchor="middle">11</text>
<line x1="124.91" y1="413" x2="124.91" y2="416.3" class="ax"/>
<text x="124.91" y="425" class="tk" text-anchor="middle">13</text>
<line x1="136.26" y1="413" x2="136.26" y2="416.3" class="ax"/>
<text x="136.26" y="425" class="tk" text-anchor="middle">15</text>
<line x1="147.6" y1="413" x2="147.6" y2="416.3" class="ax"/>
<text x="147.6" y="425" class="tk" text-anchor="middle">16</text>
<line x1="158.94" y1="413" x2="158.94" y2="416.3" class="ax"/>
<text x="158.94" y="425" class="tk" text-anchor="middle">19</text>
<line x1="170.29" y1="413" x2="170.29" y2="416.3" class="ax"/>
<text x="170.29" y="425" class="tk" text-anchor="middle">21</text>
<line x1="181.63" y1="413" x2="181.63" y2="416.3" class="ax"/>
<text x="181.63" y="425" class="tk" text-anchor="middle">22</text>
<line x1="192.98" y1="413" x2="192.98" y2="416.3" class="ax"/>
<text x="192.98" y="425" class="tk" text-anchor="middle">25</text>
<line x1="204.32" y1="413" x2="204.32" y2="416.3" class="ax"/>
<text x="204.32" y="425" class="tk" text-anchor="middle">28</text>
<line x1="215.67" y1="413" x2="215.67" y2="416.3" class="ax"/>
<text x="215.67" y="425" class="tk" text-anchor="middle">32</text>
<line x1="227.01" y1="413" x2="227.01" y2="416.3" class="ax"/>
<text x="227.01" y="425" class="tk" text-anchor="middle">35</text>
<line x1="238.36" y1="413" x2="238.36" y2="416.3" class="ax"/>
<text x="238.36" y="425" class="tk" text-anchor="middle">40</text>
<line x1="249.7" y1="413" x2="249.7" y2="416.3" class="ax"/>
<text x="249.7" y="425" class="tk" text-anchor="middle">44</text>
<path d="M40.2 309.2V413H255.3" class="axl"/>
<clipPath id="c20"><rect x="40.2" y="0" width="220.1" height="413"/></clipPath>
<mask id="mb20" maskUnits="userSpaceOnUse" x="0" y="0" width="520" height="476"><rect width="520" height="476" fill="#fff"/><path d="M45.5 371.1V351.5M56.84 395.6V374M113.57 412V409.6M136.26 411.5V409.2M181.63 405.8V400.8M238.36 393.5V391.5" stroke="#000" stroke-width="1.9" fill="none"/><path d="M45.5 370.4V346.7M56.84 383.9V365.6M158.94 408.1V405.5M170.29 401.2V397.9M192.98 402.2V395.6M204.32 402.3V401.3M215.67 402.1V394.4M227.01 400.2V389.2M238.36 397.5V389.4M249.7 397.5V385.4" stroke="#000" stroke-width="1.9" fill="none"/></mask>
<mask id="mr20" maskUnits="userSpaceOnUse" x="0" y="0" width="520" height="476"><rect width="520" height="476" fill="#fff"/><path d="M45.5 370.4V346.7M56.84 383.9V365.6M158.94 408.1V405.5M170.29 401.2V397.9M192.98 402.2V395.6M204.32 402.3V401.3M215.67 402.1V394.4M227.01 400.2V389.2M238.36 397.5V389.4M249.7 397.5V385.4" stroke="#000" stroke-width="1.9" fill="none"/></mask>
<g clip-path="url(#c20)"><path d="M56.84 390.8V387.4M192.98 408V406.3M227.01 400V397M249.7 390.6V387.7" stroke="#124a8a" stroke-opacity="0.8" stroke-width="1.3" fill="none" mask="url(#mb20)"/><path d="M54.74 387.4H58.94M190.88 406.3H195.08M224.91 397H229.11M247.6 387.7H251.8" stroke="#124a8a" stroke-opacity="0.8" stroke-width="1.3" fill="none"/></g>
<path d="M45.5 377.4L47.8 381.7L43.2 381.7Z" fill="#124a8a"/>
<path d="M56.84 388.3L59.14 392.6L54.54 392.6Z" fill="#124a8a"/>
<path d="M124.91 410.5L127.21 414.8L122.61 414.8Z" fill="#124a8a"/>
<path d="M158.94 409L161.24 413.3L156.64 413.3Z" fill="#124a8a"/>
<path d="M181.63 407.2L183.93 411.5L179.33 411.5Z" fill="#124a8a"/>
<path d="M192.98 405.5L195.28 409.8L190.68 409.8Z" fill="#124a8a"/>
<path d="M204.32 403.1L206.62 407.4L202.02 407.4Z" fill="#124a8a"/>
<path d="M215.67 404.8L217.97 409.1L213.37 409.1Z" fill="#124a8a"/>
<path d="M227.01 397.5L229.31 401.8L224.71 401.8Z" fill="#124a8a"/>
<path d="M249.7 388.1L252 392.4L247.4 392.4Z" fill="#124a8a"/>
<g clip-path="url(#c20)"><path d="M45.5 371.1V351.5M56.84 395.6V374M113.57 412V409.6M136.26 411.5V409.2M181.63 405.8V400.8M238.36 393.5V391.5" stroke="#c8082f" stroke-opacity="0.72" stroke-width="1.3" fill="none" mask="url(#mr20)"/><path d="M43.4 351.5H47.6M54.74 374H58.94M111.47 409.6H115.67M134.16 409.2H138.36M179.53 400.8H183.73M236.26 391.5H240.46" stroke="#c8082f" stroke-opacity="0.72" stroke-width="1.3" fill="none"/></g>
<rect x="43.3" y="368.9" width="4.4" height="4.4" fill="#c8082f"/>
<rect x="54.64" y="393.4" width="4.4" height="4.4" fill="#c8082f"/>
<rect x="77.33" y="409.8" width="4.4" height="4.4" fill="#c8082f"/>
<rect x="88.68" y="409.8" width="4.4" height="4.4" fill="#c8082f"/>
<rect x="100.02" y="410.3" width="4.4" height="4.4" fill="#c8082f"/>
<rect x="111.37" y="409.8" width="4.4" height="4.4" fill="#c8082f"/>
<rect x="134.06" y="409.3" width="4.4" height="4.4" fill="#c8082f"/>
<rect x="156.74" y="409" width="4.4" height="4.4" fill="#c8082f"/>
<rect x="168.09" y="406.8" width="4.4" height="4.4" fill="#c8082f"/>
<rect x="179.43" y="403.6" width="4.4" height="4.4" fill="#c8082f"/>
<rect x="190.78" y="406.6" width="4.4" height="4.4" fill="#c8082f"/>
<rect x="202.12" y="409.5" width="4.4" height="4.4" fill="#c8082f"/>
<rect x="224.81" y="400.5" width="4.4" height="4.4" fill="#c8082f"/>
<rect x="236.16" y="391.3" width="4.4" height="4.4" fill="#c8082f"/>
<rect x="247.5" y="391.5" width="4.4" height="4.4" fill="#c8082f"/>
<g clip-path="url(#c20)"><path d="M45.5 370.4V346.7M56.84 383.9V365.6M158.94 408.1V405.5M170.29 401.2V397.9M192.98 402.2V395.6M204.32 402.3V401.3M215.67 402.1V394.4M227.01 400.2V389.2M238.36 397.5V389.4M249.7 397.5V385.4" stroke="#1fa83a" stroke-opacity="0.64" stroke-width="1.3" fill="none"/><path d="M43.4 346.7H47.6M54.74 365.6H58.94M156.84 405.5H161.04M168.19 397.9H172.39M190.88 395.6H195.08M202.22 401.3H206.42M213.57 394.4H217.77M224.91 389.2H229.11M236.26 389.4H240.46M247.6 385.4H251.8" stroke="#1fa83a" stroke-opacity="0.64" stroke-width="1.3" fill="none"/></g>
<circle cx="45.5" cy="370.4" r="2.1" fill="#1fa83a"/>
<circle cx="56.84" cy="383.9" r="2.1" fill="#1fa83a"/>
<circle cx="68.19" cy="410.3" r="2.1" fill="#1fa83a"/>
<circle cx="79.53" cy="410.8" r="2.1" fill="#1fa83a"/>
<circle cx="90.88" cy="410.6" r="2.1" fill="#1fa83a"/>
<circle cx="102.22" cy="411.5" r="2.1" fill="#1fa83a"/>
<circle cx="113.57" cy="411.9" r="2.1" fill="#1fa83a"/>
<circle cx="124.91" cy="412.4" r="2.1" fill="#1fa83a"/>
<circle cx="136.26" cy="411.2" r="2.1" fill="#1fa83a"/>
<circle cx="147.6" cy="411.9" r="2.1" fill="#1fa83a"/>
<circle cx="158.94" cy="408.1" r="2.1" fill="#1fa83a"/>
<circle cx="170.29" cy="401.2" r="2.1" fill="#1fa83a"/>
<circle cx="181.63" cy="408.5" r="2.1" fill="#1fa83a"/>
<circle cx="192.98" cy="402.2" r="2.1" fill="#1fa83a"/>
<circle cx="204.32" cy="402.3" r="2.1" fill="#1fa83a"/>
<circle cx="215.67" cy="402.1" r="2.1" fill="#1fa83a"/>
<circle cx="227.01" cy="400.2" r="2.1" fill="#1fa83a"/>
<circle cx="238.36" cy="397.5" r="2.1" fill="#1fa83a"/>
<circle cx="249.7" cy="397.5" r="2.1" fill="#1fa83a"/>
<text x="403.75" y="306.1" class="ti" text-anchor="middle" style="font-size:9.6px" textLength="60.3" lengthAdjust="spacingAndGlyphs">Monocytes abs</text>
<text class="yl" text-anchor="middle" transform="translate(280 363) rotate(-90) scale(0.81 1)">ths/µl</text>
<line x1="293.2" y1="412.9" x2="296.5" y2="412.9" class="ax"/>
<text x="290.3" y="415.3" class="tk" text-anchor="end">0</text>
<line x1="293.2" y1="387.77" x2="296.5" y2="387.77" class="ax"/>
<text x="290.3" y="390.17" class="tk" text-anchor="end">1</text>
<line x1="293.2" y1="362.65" x2="296.5" y2="362.65" class="ax"/>
<text x="290.3" y="365.05" class="tk" text-anchor="end">2</text>
<line x1="293.2" y1="337.52" x2="296.5" y2="337.52" class="ax"/>
<text x="290.3" y="339.92" class="tk" text-anchor="end">3</text>
<line x1="293.2" y1="312.4" x2="296.5" y2="312.4" class="ax"/>
<text x="290.3" y="314.8" class="tk" text-anchor="end">4</text>
<line x1="302" y1="413" x2="302" y2="416.3" class="ax"/>
<text x="299.9" y="425" class="tk" text-anchor="middle">−10</text>
<line x1="313.36" y1="413" x2="313.36" y2="416.3" class="ax"/>
<text x="313.26" y="425" class="tk" text-anchor="middle">−2</text>
<line x1="324.71" y1="413" x2="324.71" y2="416.3" class="ax"/>
<text x="324.71" y="425" class="tk" text-anchor="middle">0</text>
<line x1="336.07" y1="413" x2="336.07" y2="416.3" class="ax"/>
<text x="336.07" y="425" class="tk" text-anchor="middle">1</text>
<line x1="347.42" y1="413" x2="347.42" y2="416.3" class="ax"/>
<text x="347.42" y="425" class="tk" text-anchor="middle">4</text>
<line x1="358.78" y1="413" x2="358.78" y2="416.3" class="ax"/>
<text x="358.78" y="425" class="tk" text-anchor="middle">7</text>
<line x1="370.13" y1="413" x2="370.13" y2="416.3" class="ax"/>
<text x="370.13" y="425" class="tk" text-anchor="middle">11</text>
<line x1="381.49" y1="413" x2="381.49" y2="416.3" class="ax"/>
<text x="381.49" y="425" class="tk" text-anchor="middle">13</text>
<line x1="392.84" y1="413" x2="392.84" y2="416.3" class="ax"/>
<text x="392.84" y="425" class="tk" text-anchor="middle">15</text>
<line x1="404.2" y1="413" x2="404.2" y2="416.3" class="ax"/>
<text x="404.2" y="425" class="tk" text-anchor="middle">16</text>
<line x1="415.56" y1="413" x2="415.56" y2="416.3" class="ax"/>
<text x="415.56" y="425" class="tk" text-anchor="middle">19</text>
<line x1="426.91" y1="413" x2="426.91" y2="416.3" class="ax"/>
<text x="426.91" y="425" class="tk" text-anchor="middle">21</text>
<line x1="438.27" y1="413" x2="438.27" y2="416.3" class="ax"/>
<text x="438.27" y="425" class="tk" text-anchor="middle">22</text>
<line x1="449.62" y1="413" x2="449.62" y2="416.3" class="ax"/>
<text x="449.62" y="425" class="tk" text-anchor="middle">25</text>
<line x1="460.98" y1="413" x2="460.98" y2="416.3" class="ax"/>
<text x="460.98" y="425" class="tk" text-anchor="middle">28</text>
<line x1="472.33" y1="413" x2="472.33" y2="416.3" class="ax"/>
<text x="472.33" y="425" class="tk" text-anchor="middle">32</text>
<line x1="483.69" y1="413" x2="483.69" y2="416.3" class="ax"/>
<text x="483.69" y="425" class="tk" text-anchor="middle">35</text>
<line x1="495.04" y1="413" x2="495.04" y2="416.3" class="ax"/>
<text x="495.04" y="425" class="tk" text-anchor="middle">40</text>
<line x1="506.4" y1="413" x2="506.4" y2="416.3" class="ax"/>
<text x="506.4" y="425" class="tk" text-anchor="middle">44</text>
<path d="M296.5 308.6V413H512.6" class="axl"/>
<clipPath id="c21"><rect x="296.5" y="0" width="221.1" height="413"/></clipPath>
<mask id="mb21" maskUnits="userSpaceOnUse" x="0" y="0" width="520" height="476"><rect width="520" height="476" fill="#fff"/><path d="M302 400.2V387.1M336.07 407.5V402.1M347.42 411V409.2M370.13 412V409.7M392.84 410.5V408.8M415.56 405.8V393.8M438.27 401.6V388.5M449.62 405.5V395.3M460.98 405.5V403.1M483.69 393V382.6M495.04 391.4V385.5M506.4 397.7V391" stroke="#000" stroke-width="1.9" fill="none"/><path d="M302 397.1V382.7M313.36 400.9V398.3M336.07 406.3V397.7M415.56 403.6V399.6M438.27 386.9V371.3M449.62 387.5V362.5M472.33 391V360.5M495.04 402.7V394.7M506.4 372.5V327.9" stroke="#000" stroke-width="1.9" fill="none"/></mask>
<mask id="mr21" maskUnits="userSpaceOnUse" x="0" y="0" width="520" height="476"><rect width="520" height="476" fill="#fff"/><path d="M302 397.1V382.7M313.36 400.9V398.3M336.07 406.3V397.7M415.56 403.6V399.6M438.27 386.9V371.3M449.62 387.5V362.5M472.33 391V360.5M495.04 402.7V394.7M506.4 372.5V327.9" stroke="#000" stroke-width="1.9" fill="none"/></mask>
<g clip-path="url(#c21)"><path d="M302 394.8V387.1M313.36 400.2V396.3M313.36 400.2V404M392.84 406.5V396.5M415.56 405V397.7M426.91 397.3V383.2M449.62 392.4V366.4M460.98 400.2V380.5M472.33 406.1V398.8M495.04 395.7V387.1" stroke="#124a8a" stroke-opacity="0.8" stroke-width="1.3" fill="none" mask="url(#mb21)"/><path d="M299.9 387.1H304.1M311.26 396.3H315.46M311.26 404H315.46M390.74 396.5H394.94M413.46 397.7H417.66M424.81 383.2H429.01M447.52 366.4H451.72M458.88 380.5H463.08M470.23 398.8H474.43M492.94 387.1H497.14" stroke="#124a8a" stroke-opacity="0.8" stroke-width="1.3" fill="none"/></g>
<path d="M302 392.3L304.3 396.6L299.7 396.6Z" fill="#124a8a"/>
<path d="M313.36 397.7L315.66 402L311.06 402Z" fill="#124a8a"/>
<path d="M336.07 407.3L338.37 411.6L333.77 411.6Z" fill="#124a8a"/>
<path d="M347.42 410.5L349.72 414.8L345.12 414.8Z" fill="#124a8a"/>
<path d="M381.49 410.5L383.79 414.8L379.19 414.8Z" fill="#124a8a"/>
<path d="M392.84 404L395.14 408.3L390.54 408.3Z" fill="#124a8a"/>
<path d="M415.56 402.5L417.86 406.8L413.26 406.8Z" fill="#124a8a"/>
<path d="M426.91 394.8L429.21 399.1L424.61 399.1Z" fill="#124a8a"/>
<path d="M438.27 406.1L440.57 410.4L435.97 410.4Z" fill="#124a8a"/>
<path d="M449.62 389.9L451.92 394.2L447.32 394.2Z" fill="#124a8a"/>
<path d="M460.98 397.7L463.28 402L458.68 402Z" fill="#124a8a"/>
<path d="M472.33 403.6L474.63 407.9L470.03 407.9Z" fill="#124a8a"/>
<path d="M483.69 396.7L485.99 401L481.39 401Z" fill="#124a8a"/>
<path d="M495.04 393.2L497.34 397.5L492.74 397.5Z" fill="#124a8a"/>
<path d="M506.4 401.6L508.7 405.9L504.1 405.9Z" fill="#124a8a"/>
<g clip-path="url(#c21)"><path d="M302 400.2V387.1M336.07 407.5V402.1M347.42 411V409.2M370.13 412V409.7M392.84 410.5V408.8M415.56 405.8V393.8M438.27 401.6V388.5M449.62 405.5V395.3M460.98 405.5V403.1M483.69 393V382.6M495.04 391.4V385.5M506.4 397.7V391" stroke="#c8082f" stroke-opacity="0.72" stroke-width="1.3" fill="none" mask="url(#mr21)"/><path d="M299.9 387.1H304.1M333.97 402.1H338.17M345.32 409.2H349.52M368.03 409.7H372.23M390.74 408.8H394.94M413.46 393.8H417.66M436.17 388.5H440.37M447.52 395.3H451.72M458.88 403.1H463.08M481.59 382.6H485.79M492.94 385.5H497.14M504.3 391H508.5" stroke="#c8082f" stroke-opacity="0.72" stroke-width="1.3" fill="none"/></g>
<rect x="299.8" y="398" width="4.4" height="4.4" fill="#c8082f"/>
<rect x="311.16" y="399.3" width="4.4" height="4.4" fill="#c8082f"/>
<rect x="333.87" y="405.3" width="4.4" height="4.4" fill="#c8082f"/>
<rect x="345.22" y="408.8" width="4.4" height="4.4" fill="#c8082f"/>
<rect x="356.58" y="410.3" width="4.4" height="4.4" fill="#c8082f"/>
<rect x="367.93" y="409.8" width="4.4" height="4.4" fill="#c8082f"/>
<rect x="390.64" y="408.3" width="4.4" height="4.4" fill="#c8082f"/>
<rect x="413.36" y="403.6" width="4.4" height="4.4" fill="#c8082f"/>
<rect x="424.71" y="400.9" width="4.4" height="4.4" fill="#c8082f"/>
<rect x="436.07" y="399.4" width="4.4" height="4.4" fill="#c8082f"/>
<rect x="447.42" y="403.3" width="4.4" height="4.4" fill="#c8082f"/>
<rect x="458.78" y="403.3" width="4.4" height="4.4" fill="#c8082f"/>
<rect x="481.49" y="390.8" width="4.4" height="4.4" fill="#c8082f"/>
<rect x="492.84" y="389.2" width="4.4" height="4.4" fill="#c8082f"/>
<rect x="504.2" y="395.5" width="4.4" height="4.4" fill="#c8082f"/>
<g clip-path="url(#c21)"><path d="M302 397.1V382.7M313.36 400.9V398.3M336.07 406.3V397.7M415.56 403.6V399.6M438.27 386.9V371.3M449.62 387.5V362.5M472.33 391V360.5M495.04 402.7V394.7M506.4 372.5V327.9" stroke="#1fa83a" stroke-opacity="0.64" stroke-width="1.3" fill="none"/><path d="M299.9 382.7H304.1M311.26 398.3H315.46M333.97 397.7H338.17M413.46 399.6H417.66M436.17 371.3H440.37M447.52 362.5H451.72M470.23 360.5H474.43M492.94 394.7H497.14M504.3 327.9H508.5" stroke="#1fa83a" stroke-opacity="0.64" stroke-width="1.3" fill="none"/></g>
<circle cx="302" cy="397.1" r="2.1" fill="#1fa83a"/>
<circle cx="313.36" cy="400.9" r="2.1" fill="#1fa83a"/>
<circle cx="324.71" cy="396" r="2.1" fill="#1fa83a"/>
<circle cx="336.07" cy="406.3" r="2.1" fill="#1fa83a"/>
<circle cx="347.42" cy="411.9" r="2.1" fill="#1fa83a"/>
<circle cx="358.78" cy="412.4" r="2.1" fill="#1fa83a"/>
<circle cx="370.13" cy="411.9" r="2.1" fill="#1fa83a"/>
<circle cx="381.49" cy="412.7" r="2.1" fill="#1fa83a"/>
<circle cx="392.84" cy="411.2" r="2.1" fill="#1fa83a"/>
<circle cx="404.2" cy="411.5" r="2.1" fill="#1fa83a"/>
<circle cx="415.56" cy="403.6" r="2.1" fill="#1fa83a"/>
<circle cx="438.27" cy="386.9" r="2.1" fill="#1fa83a"/>
<circle cx="449.62" cy="387.5" r="2.1" fill="#1fa83a"/>
<circle cx="460.98" cy="407" r="2.1" fill="#1fa83a"/>
<circle cx="472.33" cy="391" r="2.1" fill="#1fa83a"/>
<circle cx="483.69" cy="406.6" r="2.1" fill="#1fa83a"/>
<circle cx="495.04" cy="402.7" r="2.1" fill="#1fa83a"/>
<circle cx="506.4" cy="372.5" r="2.1" fill="#1fa83a"/>
<circle cx="38.3" cy="442.7" r="2.3" fill="#1fa83a"/>
<text x="43.4" y="444.9" class="lg">Autologous HSPCs (control)</text>
<rect x="36.1" y="451.55" width="4.6" height="4.5" fill="#c8082f"/>
<text x="43.4" y="456" class="lg">Autologous HSPCs with MHC matched iHPs</text>
<path d="M37.6 462.6L40.3 467.7L34.9 467.7Z" fill="#124a8a"/>
<text x="42.7" y="467.6" class="lg">Autologous HSPCs with MHC mismatched iHPs</text>
</g>
</svg>
</div></body></html>
